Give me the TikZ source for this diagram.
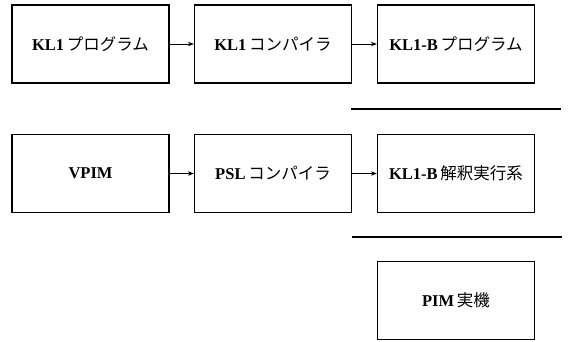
\documentclass[tikz,border=0pt]{standalone}
\usepackage{fontspec}
\setmainfont{Liberation Serif}
\newfontfamily\jp{Noto Sans CJK JP}
\usetikzlibrary{arrows.meta}
\tikzset{
  blk/.style={draw, line width=1.2pt, minimum width=157pt, minimum height=78pt, inner sep=0pt, font=\fontsize{16.5}{19}\selectfont\bfseries},
  conn/.style={line width=0.9pt, -{Stealth[length=6pt,width=4.5pt]}},
  sep/.style={line width=1.6pt}
}
\begin{document}
\begin{tikzpicture}[x=1pt,y=-1pt]
\useasboundingbox (0,0) rectangle (568,341);
\node[blk] (a1) at (90.5,44) {KL1\,{\jp\mdseries プログラム}};
\node[blk] (a2) at (273,44) {KL1\,{\jp\mdseries コンパイラ}};
\node[blk] (a3) at (456,44) {KL1-B\,{\jp\mdseries プログラム}};
\node[blk] (b1) at (90.5,173.5) {VPIM};
\node[blk] (b2) at (273,173.5) {PSL\,{\jp\mdseries コンパイラ}};
\node[blk] (b3) at (456,173.5) {KL1-B\,{\jp\mdseries 解釈実行系}};
\node[blk] (c3) at (456,300.5) {PIM\,{\jp\mdseries 実機}};
\draw[conn] (a1) -- (a2);
\draw[conn] (a2) -- (a3);
\draw[conn] (b1) -- (b2);
\draw[conn] (b2) -- (b3);
\coordinate (l1a) at (351,109);
\coordinate (l1b) at (561,109);
\coordinate (l2a) at (352,237);
\coordinate (l2b) at (562,237);
\draw[sep] (l1a) -- (l1b);
\draw[sep] (l2a) -- (l2b);
\end{tikzpicture}
\end{document}
